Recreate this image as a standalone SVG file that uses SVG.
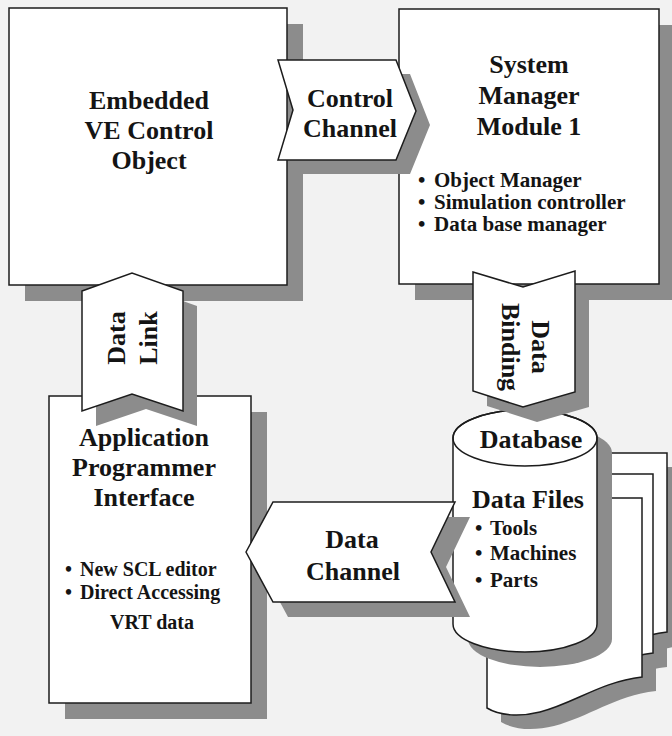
<svg xmlns="http://www.w3.org/2000/svg" xmlns:xlink="http://www.w3.org/1999/xlink" width="672" height="736" viewBox="0 0 672 736">
<defs>
<style>
.bg{fill:#f2f2f2}
.sh{fill:#8c8c8c}
.bx{fill:#ffffff;stroke:#1c1c1c;stroke-width:1.5;stroke-linejoin:miter}
.t{font-family:"Liberation Serif","Times New Roman",serif;font-weight:bold;fill:#141414}
.big{font-size:26px;text-anchor:middle}
.sm{font-size:21px}
.sm2{font-size:20px}
</style>
<path id="doc" d="M487,498 H642 V677 C600,682 575,703 540,712 C520,717 500,716 487,708 Z"/>
<path id="cyl" d="M453,438 A72,28 0 0 1 597,438 V624 A72,28 0 0 1 453,624 Z"/>
<polygon id="cc" points="278,60 396,60 416,111 396,160 278,160 293,110"/>
<polygon id="dl" points="82,291 132,273 183,291 183,411 132,394 82,411"/>
<polygon id="db" points="473,272 523,287 575,271 575,392 523,407 473,391"/>
<polygon id="dc" points="246,552 273,502 455,502 431,552 455,602 273,602"/>
</defs>
<rect class="bg" x="0" y="0" width="672" height="736"/>

<g id="data-files">
<use href="#doc" class="sh" transform="translate(39,-31)"/>
<use href="#doc" class="sh" transform="translate(25,-10)"/>
<use href="#doc" class="sh" transform="translate(14,14)"/>
<use href="#doc" class="bx" transform="translate(25,-45)"/>
<use href="#doc" class="bx" transform="translate(11,-24)"/>
<use href="#doc" class="bx"/>
</g>

<g id="embedded-ve-control-object">
<rect class="sh" x="25" y="24" width="278" height="277"/>
<rect class="bx" x="9" y="8" width="278" height="277"/>
<text class="t big" x="149" y="109">Embedded</text>
<text class="t big" x="149" y="139">VE Control</text>
<text class="t big" x="149" y="169">Object</text>
</g>

<g id="system-manager-module-1">
<rect class="sh" x="415" y="25" width="260" height="275"/>
<rect class="bx" x="399" y="9" width="260" height="275"/>
<text class="t big" x="529" y="73">System</text>
<text class="t big" x="529" y="104">Manager</text>
<text class="t big" x="529" y="135">Module 1</text>
<text class="t sm"><tspan x="418" y="187">•</tspan><tspan x="434" y="187">Object Manager</tspan></text>
<text class="t sm"><tspan x="418" y="209">•</tspan><tspan x="434" y="209">Simulation controller</tspan></text>
<text class="t sm"><tspan x="418" y="231">•</tspan><tspan x="434" y="231">Data base manager</tspan></text>
</g>

<g id="application-programmer-interface">
<rect class="sh" x="65" y="412" width="202" height="307"/>
<rect class="bx" x="49" y="396" width="202" height="307"/>
<text class="t big" x="144" y="446">Application</text>
<text class="t big" x="144" y="476">Programmer</text>
<text class="t big" x="144" y="506">Interface</text>
<text class="t sm2"><tspan x="65" y="576">•</tspan><tspan x="80" y="576">New SCL  editor</tspan></text>
<text class="t sm2"><tspan x="65" y="599">•</tspan><tspan x="80" y="599">Direct Accessing</tspan></text>
<text class="t sm2" x="110" y="629">VRT data</text>
</g>

<g id="database">
<use href="#cyl" class="sh" transform="translate(15,15)"/>
<use href="#cyl" class="bx"/>
<ellipse cx="525" cy="438" rx="72" ry="28" fill="none" stroke="#1c1c1c" stroke-width="1.5"/>
<text class="t big" x="531" y="448">Database</text>
<text class="t big" x="528" y="508">Data Files</text>
<text class="t sm"><tspan x="475" y="535">•</tspan><tspan x="490" y="535">Tools</tspan></text>
<text class="t sm"><tspan x="475" y="560">•</tspan><tspan x="490" y="560">Machines</tspan></text>
<text class="t sm"><tspan x="475" y="587">•</tspan><tspan x="490" y="587">Parts</tspan></text>
</g>

<g id="connectors">
<g id="control-channel">
<use href="#cc" class="sh" transform="translate(14,14)"/>
<use href="#cc" class="bx"/>
<text class="t big" x="350" y="107">Control</text>
<text class="t big" x="350" y="137">Channel</text>
</g>
<g id="data-link">
<use href="#dl" class="sh" transform="translate(14,15)"/>
<use href="#dl" class="bx"/>
<text class="t big" transform="translate(125,338) rotate(-90)">Data</text>
<text class="t big" transform="translate(157,338) rotate(-90)">Link</text>
</g>
<g id="data-binding">
<use href="#db" class="sh" transform="translate(14,15)"/>
<use href="#db" class="bx"/>
<text class="t big" transform="translate(532,347) rotate(90)">Data</text>
<text class="t big" transform="translate(502,347) rotate(90)">Binding</text>
</g>
<g id="data-channel">
<use href="#dc" class="sh" transform="translate(15,15)"/>
<use href="#dc" class="bx"/>
<text class="t big" x="352" y="548">Data</text>
<text class="t big" x="353" y="580">Channel</text>
</g>
</g>
</svg>
